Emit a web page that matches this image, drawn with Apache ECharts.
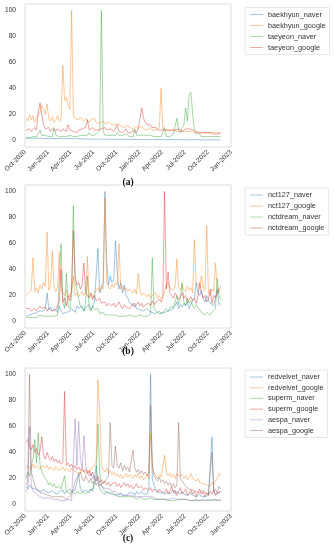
<!DOCTYPE html>
<html><head><meta charset="utf-8">
<script src="https://cdn.jsdelivr.net/npm/echarts@6/dist/echarts.min.js"></script>
<style>html,body{margin:0;padding:0;background:#fff}#c{width:334px;height:550px}</style>
</head><body><div id="c"></div>
<script>
// weekly samples starting 2020-10-05
const startDate = '2020-10-05';
const stepDays = 7;
const xTickDates = ['2020-10-01','2021-01-01','2021-04-01','2021-07-01','2021-10-01','2022-01-01','2022-04-01','2022-07-01','2022-10-01','2023-01-01'];
const xTickLabels = ['Oct-2020','Jan-2021','Apr-2021','Jul-2021','Oct-2021','Jan-2022','Apr-2022','Jul-2022','Oct-2022','Jan-2023'];
const yTicks = [0,20,40,60,80,100];
const captions = ['(a)','(b)','(c)'];

// panel (a)
const baekhyun_naver = [2,2,1.8,2,1.7,2,1.8,1.6,1.8,1.7, 1.6,1.7,1.5,1.6,1.5,1.6,1.4,1.5,1.5,1.4, 1.5,1.6,1.4,1.5,1.4,1.3,1.5,1.4,1.3,1.2, 1.3,1.2,1.3,1.2,1.1,1.2,1.1,1.2,1.0,1.1, 1.0,1.1,1.2,1.0,1.0,0.9,1.0,0.9,1.0,0.9, 0.9,1.0,0.9,0.8,0.9,0.8,0.9,0.8,0.9,0.8, 0.8,0.9,0.8,0.8,0.7,0.8,0.9,0.8,0.7,0.8, 0.7,0.8,0.7,0.7,0.8,0.7,0.7,0.8,0.7,0.7, 0.6,0.7,0.7,0.6,0.7,0.6,0.7,0.6,0.6,0.7, 0.6,0.7,0.6,0.6,0.5,0.6,0.6,0.5,0.6,0.5, 0.5,0.6,0.5,0.5,0.6,0.5,0.5,0.6,0.5,0.5, 0.5,0.5];
const baekhyun_google = [18,15,20,16,19,14,18,17,22,27, 24,20,28,17,15,18,14,16,19,15, 17,58,31,33,27,24,100,19,17,18, 16,18,17,15,17,16,14,16,15,17, 14,15,13,14,15,13,12,14,13,12, 13,12,11,13,11,12,10,11,12,10, 11,9,10,11,9,10,11,9,10,8, 9,10,8,9,8,9,10,40,9,8, 8,7,8,7,8,7,7,8,7,6, 7,8,7,6,7,7,6,7,6,7, 6,7,6,5,6,5,6,5,6,5, 6,5];
const taeyeon_naver = [2,3,2,3,3,4,3,3,8,4, 3,4,3,3,4,3,10,4,3,3, 4,3,4,3,3,4,5,3,4,3, 3,4,3,4,5,4,6,4,3,4, 5,6,8,100,7,4,3,4,3,4, 3,4,6,4,3,4,3,5,4,3, 4,3,9,4,3,4,3,4,3,4, 3,4,3,3,4,3,2,3,4,10, 3,4,3,4,5,6,17,8,6,10, 12,25,15,35,37,20,8,5,4,5, 3,4,3,4,3,2,3,4,3,2, 3,3];
const taeyeon_google = [8,7,9,7,8,10,8,22,29,20, 12,9,8,10,7,9,8,7,9,8, 7,9,8,7,12,8,9,7,8,6, 8,7,9,8,10,16,8,7,10,8, 9,8,7,9,8,10,8,7,9,8, 7,8,12,7,8,6,7,9,6,7, 6,8,7,6,9,8,25,17,14,12, 11,12,10,9,10,8,9,8,9,8, 7,8,7,8,7,8,7,9,8,7, 8,9,10,9,10,8,9,7,8,6, 7,6,5,6,5,6,5,5,6,5, 5,6];

// panel (b)
const nct127_naver = [4,3,5,4,6,5,7,6,8,9, 8,10,22,9,11,8,10,9,7,12, 8,6,5,7,6,8,10,9,7,12, 10,9,12,8,11,10,13,9,12,15, 14,56,22,25,30,100,46,28,35,30, 32,62,38,25,30,22,28,20,18,15, 15,12,14,10,11,9,10,8,9,10, 8,9,7,8,6,7,8,6,5,7, 6,8,7,9,10,12,15,10,13,11, 14,12,15,10,13,16,18,30,22,20, 24,18,15,20,16,14,15,12,18,25, 13,14];
const nct127_google = [20,22,21,24,49,23,26,22,28,25, 30,27,69,24,28,54,27,23,26,53, 25,22,20,24,21,19,23,35,20,22, 19,21,23,20,22,50,19,21,18,22, 24,26,23,28,25,95,30,27,25,29, 26,30,28,60,25,27,24,26,23,25, 24,22,25,21,37,23,20,22,21,19, 21,18,20,19,22,18,20,17,19,20, 28,30,26,25,24,27,48,26,24,28, 25,23,27,24,26,22,63,30,28,25, 35,27,24,74,22,20,25,23,45,26, 22,25];
const nctdream_naver = [3,2,3,4,3,4,3,4,5,4, 4,5,4,5,4,5,4,4,5,6, 60,15,10,37,12,10,20,89,30,25, 18,12,10,8,15,35,10,8,12,9, 8,10,6,5,7,5,4,5,4,5, 4,5,4,4,5,4,3,4,4,5, 4,4,5,4,4,5,4,4,5,4, 5,6,49,10,8,7,6,5,7,8, 10,8,9,12,10,15,20,13,18,30, 15,12,18,14,16,12,10,13,11,9, 7,6,5,7,6,5,7,8,10,33, 20,17];
const nctdream_google = [10,9,10,8,9,10,8,9,12,10, 9,11,8,10,9,8,7,9,8,15, 40,15,18,12,20,16,25,70,35,28, 30,25,28,45,22,20,18,22,17,20, 16,15,18,14,13,15,12,14,13,12, 14,11,13,15,12,10,13,11,12,10, 12,14,11,13,15,12,14,11,13,12, 14,12,16,13,15,14,17,15,18,100, 25,38,22,20,18,22,20,17,19,22, 18,20,15,17,19,16,18,14,20,30, 22,18,20,15,17,25,14,20,18,22, 25,27];

// panel (c)
const redvelvet_naver = [14,12,15,13,14,12,13,11,12,10, 12,10,11,9,10,11,9,10,8,10, 9,11,8,10,9,12,10,9,11,10, 24,12,10,9,11,10,9,12,10,11, 30,18,12,10,9,8,10,9,8,7, 8,9,7,8,9,7,8,7,8,9, 8,9,7,10,8,9,10,8,9,8, 12,100,20,15,12,10,11,9,10,8, 9,10,8,9,11,8,10,9,8,10, 8,9,7,8,9,7,8,6,7,8, 6,7,6,5,7,6,52,10,8,7, 9,10];
const redvelvet_google = [28,30,29,27,31,28,30,29,27,30, 29,28,30,27,29,28,26,29,27,28, 27,29,26,28,27,25,28,26,27,25, 26,24,27,25,23,26,24,28,27,30, 33,96,72,30,27,25,28,24,26,23, 25,22,24,21,23,20,22,24,21,23, 22,20,23,21,24,20,22,19,21,23, 20,55,30,24,22,20,23,21,22,38, 25,22,24,21,23,20,24,22,21,23, 20,22,19,21,24,20,19,18,20,17, 18,16,17,15,16,14,17,15,18,20, 24,22];
const superm_naver = [20,25,22,30,35,50,32,55,30,25, 22,20,18,15,17,14,16,13,12,14, 12,11,22,10,9,8,10,9,8,10, 9,8,10,9,8,9,11,10,12,15, 20,62,25,15,12,10,11,9,8,9, 8,7,8,6,7,6,5,6,5,6, 5,6,5,4,5,6,5,4,5,4, 4,5,4,4,3,4,3,4,3,4, 4,3,4,3,4,3,3,4,3,4, 3,4,3,3,4,3,3,4,3,3, 3,4,3,3,4,3,3,4,3,3, 3,4];
const superm_google = [48,50,45,42,46,40,43,38,41,52, 38,35,40,36,34,37,33,35,32,34, 31,33,87,30,32,29,31,28,30,27, 29,26,28,25,27,24,26,22,25,20, 18,22,17,19,16,18,15,17,14,16, 15,17,14,16,13,15,17,14,16,13, 15,12,14,16,13,12,14,11,13,12, 11,13,10,12,11,9,12,10,11,9, 12,8,10,14,9,11,7,10,13,8, 10,12,7,9,11,8,10,6,9,12, 8,10,6,9,7,10,8,11,7,9, 8,10];
const aespa_naver = [10,12,60,15,10,9,8,7,6,6, 5,6,5,4,5,4,4,3,4,3, 3,4,3,3,4,3,3,4,66,30, 64,35,28,53,30,25,22,24,20,22, 18,20,16,15,13,14,12,11,12,10, 9,10,8,9,8,9,7,8,7,8, 7,8,6,7,6,7,6,5,6,5, 6,5,6,5,4,5,4,5,4,5, 4,5,4,4,5,4,4,3,4,4, 4,3,4,4,3,4,3,4,3,3, 3,4,3,3,4,3,3,3,4,3, 3,3];
const aespa_google = [15,18,100,25,20,15,12,10,11,9, 10,8,9,7,8,6,7,6,5,6, 5,6,5,4,5,6,8,12,18,20, 22,25,20,18,22,19,17,20,16,18, 15,17,14,16,15,18,20,22,63,30, 28,45,30,28,32,26,30,27,29,25, 26,42,28,25,27,24,26,23,25,22, 24,76,30,22,20,18,21,17,19,16, 18,15,17,14,16,13,15,63,20,18, 16,14,15,12,13,11,12,10,11,9, 10,11,9,10,8,9,40,10,12,9, 14,12];

const panels = [
  {names:['baekhyun_naver','baekhyun_google','taeyeon_naver','taeyeon_google'],
   data:[baekhyun_naver,baekhyun_google,taeyeon_naver,taeyeon_google]},
  {names:['nct127_naver','nct127_google','nctdream_naver','nctdream_google'],
   data:[nct127_naver,nct127_google,nctdream_naver,nctdream_google]},
  {names:['redvelvet_naver','redvelvet_google','superm_naver','superm_google','aespa_naver','aespa_google'],
   data:[redvelvet_naver,redvelvet_google,superm_naver,superm_google,aespa_naver,aespa_google]}
];
const palette = ['#1f77b4','#ff7f0e','#2ca02c','#d62728','#9467bd','#8c564b'];

function ts(s){ const p=s.split('-').map(Number); return Date.UTC(p[0],p[1]-1,p[2]); }
const t0 = ts(startDate);
const tickTs = xTickDates.map(ts);

const layout = [
  {top:4, legendTop:7.5, cap:183, gap:3},
  {top:185, legendTop:188, cap:352, gap:3},
  {top:368, legendTop:370, cap:539, gap:2.7}
];
const gridH = 143;
const FONT = 'Liberation Sans';

const grids=[], xAxes=[], yAxes=[], series=[], legends=[], graphics=[];
panels.forEach((p,k)=>{
  const L = layout[k];
  grids.push({left:25, top:L.top, width:206, height:gridH, show:true, borderColor:'#dcdcdc', borderWidth:1, backgroundColor:'#fff'});
  xAxes.push({type:'value', gridIndex:k, min:tickTs[0], max:tickTs[tickTs.length-1], scale:true,
    axisLine:{show:false}, axisTick:{show:false}, splitLine:{show:false},
    axisLabel:{customValues:tickTs, rotate:45, margin:4, fontSize:6.6, color:'#333', fontFamily:FONT,
      formatter:(v)=>{ const i=tickTs.indexOf(v); return i>=0?xTickLabels[i]:''; }}});
  yAxes.push({type:'value', gridIndex:k, min:-5, max:105,
    axisLine:{show:false}, axisTick:{show:false}, splitLine:{show:false},
    axisLabel:{customValues:yTicks, margin:9, fontSize:6.6, color:'#333', fontFamily:FONT}});
  p.names.forEach((nm,j)=>{
    series.push({name:nm, type:'line', xAxisIndex:k, yAxisIndex:k, symbol:'none', animation:false,
      color:palette[j],
      lineStyle:{width:0.9, opacity:0.48, color:palette[j]},
      data:p.data[j].map((v,i)=>[t0+i*stepDays*86400000, v])});
  });
  legends.push({data:p.names, orient:'vertical', left:245, top:L.legendTop,
    icon:'path://M0,0H13V1H0Z', symbolKeepAspect:true,
    itemWidth:13, itemHeight:8, itemGap:L.gap, padding:[3,4,3,5],
    itemStyle:{opacity:0.4},
    borderColor:'#e6e6e6', borderWidth:1, borderRadius:1,
    selectedMode:false,
    textStyle:{fontSize:7.3, lineHeight:8, color:'#333', fontFamily:FONT}});
  graphics.push({type:'text', style:{text:captions[k], x:128, y:L.cap, fill:'#111',
    font:'bold 9.5px "Liberation Serif"', align:'center', verticalAlign:'middle'}});
});

const chart = echarts.init(document.getElementById('c'), null, {renderer:'canvas'});
chart.setOption({
  animation:false,
  backgroundColor:'#fff',
  grid:grids, xAxis:xAxes, yAxis:yAxes, series:series, legend:legends,
  graphic:graphics
});
</script>
</body></html>
